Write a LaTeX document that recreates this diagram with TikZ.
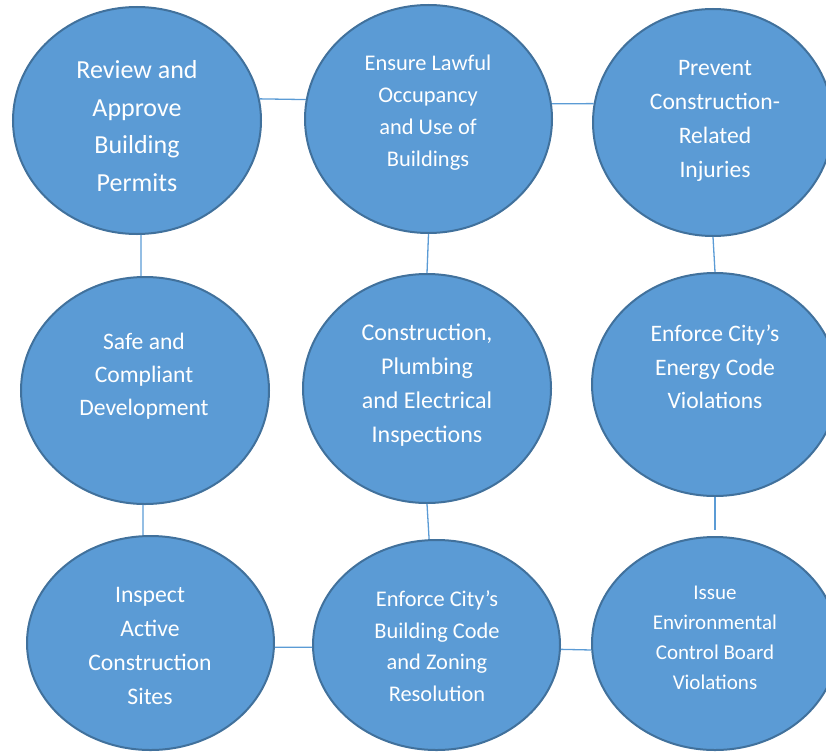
\documentclass[tikz,border=0pt]{standalone}
\usepackage{fontspec}
\setmainfont{Carlito}
\usetikzlibrary{shapes.geometric}
\definecolor{bubbleblue}{HTML}{5B9BD5}
\definecolor{bubbleedge}{HTML}{41719C}
\newcommand{\fs}[2]{\fontsize{#1}{#2}\selectfont}

\begin{document}
\begin{tikzpicture}[x=1pt, y=-1pt,
  bubble/.style={ellipse, draw=bubbleedge, fill=bubbleblue, line width=2pt, inner sep=0pt},
  txt/.style={text=white, align=center, inner sep=0pt},
  link/.style={draw=bubbleblue, line width=1.3pt}]
  \clip (0,0) rectangle (826,752);

  \node[bubble, minimum width=248pt, minimum height=227pt] (permits) at (137,120.5) {};
  \node[bubble, minimum width=247pt, minimum height=228pt] (occupancy) at (428.5,119) {};
  \node[bubble, minimum width=240pt, minimum height=227pt] (injuries) at (713,122.5) {};
  \node[bubble, minimum width=248pt, minimum height=227pt] (development) at (145,390.5) {};
  \node[bubble, minimum width=248pt, minimum height=229pt] (inspections) at (427,388.5) {};
  \node[bubble, minimum width=246pt, minimum height=223pt] (energy) at (715,384.5) {};
  \node[bubble, minimum width=247pt, minimum height=214pt] (sites) at (150.5,643) {};
  \node[bubble, minimum width=247pt, minimum height=210pt] (zoning) at (436.5,645) {};
  \node[bubble, minimum width=246pt, minimum height=213pt] (ecb) at (715,643.5) {};

  \node[txt, font=\fs{26}{37.5}] (permits-t) at (137,126) {Review and\\Approve\\Building\\Permits};
  \node[txt, font=\fs{22.4}{32}] (occupancy-t) at (428,113) {Ensure Lawful\\Occupancy\\and Use of\\Buildings};
  \node[txt, font=\fs{23.6}{34}] (injuries-t) at (715,121) {Prevent\\Construction-\\Related\\Injuries};
  \node[txt, font=\fs{23.6}{33}] (development-t) at (144,376) {Safe and\\Compliant\\Development};
  \node[txt, font=\fs{24}{34}] (inspections-t) at (427,385) {Construction,\\Plumbing\\and Electrical\\Inspections};
  \node[txt, font=\fs{23.6}{33.5}] (energy-t) at (715,367) {Enforce City’s\\Energy Code\\Violations};
  \node[txt, font=\fs{23.7}{34}] (sites-t) at (150,646) {Inspect\\Active\\Construction\\Sites};
  \node[txt, font=\fs{22.4}{31.5}] (zoning-t) at (437,646) {Enforce City’s\\Building Code\\and Zoning\\Resolution};
  \node[txt, font=\fs{21}{30}] (ecb-t) at (715,638) {Issue\\Environmental\\Control Board\\Violations};

  \draw[link] (permits.10) -- (occupancy.171);
  \draw[link] (occupancy.7) -- (injuries.171);
  \draw[link] (permits.-88.5) -- (development.92.5);
  \draw[link] (occupancy.south) -- (inspections.north);
  \draw[link] (injuries.south) -- (energy.north);
  \draw[link] (development.-91.5) -- (sites.94);
  \draw[link] (inspections.south) -- (zoning.94);
  \draw[link, shorten >=6pt] (energy.south) -- (ecb.north);
  \draw[link] (sites.-2) -- (zoning.181);
  \draw[link] (zoning.-2.3) -- (ecb.183);
\end{tikzpicture}
\end{document}
